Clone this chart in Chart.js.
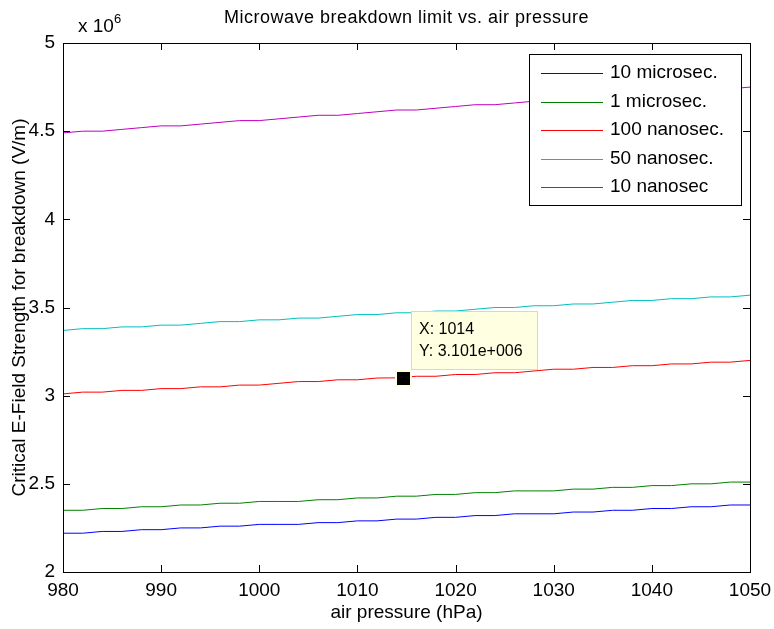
<!DOCTYPE html>
<html><head><meta charset="utf-8">
<script src="https://cdn.jsdelivr.net/npm/chart.js@4.4.0/dist/chart.umd.min.js"></script>
<style>html,body{margin:0;padding:0;background:#fff}#wrap{width:774px;height:629px}</style>
</head><body><div id="wrap"><canvas id="c" width="774" height="629"></canvas></div>
<script>
const pressure = [980,982,984,986,988,990,992,994,996,998,1000,1002,1004,1006,1008,1010,1012,1014,1016,1018,1020,1022,1024,1026,1028,1030,1032,1034,1036,1038,1040,1042,1044,1046,1048,1050];
// values in units of 10^6 V/m
const tenMicro = [2.22,2.22,2.23,2.23,2.24,2.24,2.25,2.25,2.26,2.26,2.27,2.27,2.27,2.28,2.28,2.29,2.29,2.30,2.30,2.31,2.31,2.32,2.32,2.33,2.33,2.33,2.34,2.34,2.35,2.35,2.36,2.36,2.37,2.37,2.38,2.38];
const oneMicro = [2.35,2.35,2.36,2.36,2.37,2.37,2.38,2.38,2.39,2.39,2.40,2.40,2.40,2.41,2.41,2.42,2.42,2.43,2.43,2.44,2.44,2.45,2.45,2.46,2.46,2.46,2.47,2.47,2.48,2.48,2.49,2.49,2.50,2.50,2.51,2.51];
const hundredNano = [3.01,3.02,3.02,3.03,3.03,3.04,3.04,3.05,3.05,3.06,3.06,3.07,3.08,3.08,3.09,3.09,3.10,3.101,3.11,3.11,3.12,3.12,3.13,3.13,3.14,3.15,3.15,3.16,3.16,3.17,3.17,3.18,3.18,3.19,3.19,3.20];
const fiftyNano = [3.37,3.38,3.38,3.39,3.39,3.40,3.40,3.41,3.42,3.42,3.43,3.43,3.44,3.44,3.45,3.46,3.46,3.47,3.47,3.48,3.48,3.49,3.50,3.50,3.51,3.51,3.52,3.52,3.53,3.54,3.54,3.55,3.55,3.56,3.56,3.57];
const tenNano = [4.49,4.50,4.50,4.51,4.52,4.53,4.53,4.54,4.55,4.56,4.56,4.57,4.58,4.59,4.59,4.60,4.61,4.62,4.62,4.63,4.64,4.65,4.65,4.66,4.67,4.68,4.68,4.69,4.70,4.71,4.71,4.72,4.73,4.74,4.74,4.75];
const seriesNames = ['10 microsec.','1 microsec.','100 nanosec.','50 nanosec.','10 nanosec'];
const seriesColors = ['#0000ff','#008000','#ff0000','#00bfbf','#bf00bf'];
const xTicks = [980,990,1000,1010,1020,1030,1040,1050];
const yTicks = [2,2.5,3,3.5,4,4.5,5];
const yTickLabels = ['2','2.5','3','3.5','4','4.5','5'];
const tipX = 1014, tipY = 3.101;
const tipLines = ['X: 1014','Y: 3.101e+006'];

const allSeries = [tenMicro, oneMicro, hundredNano, fiftyNano, tenNano];
const FONT = '"Liberation Sans", Arial, sans-serif';

const datasets = allSeries.map((s,i)=>({
  label: seriesNames[i],
  data: pressure.map((p,j)=>({x:p,y:s[j]})),
  borderColor: seriesColors[i],
  borderWidth: 1,
  pointRadius: 0,
  tension: 0,
  fill: false
}));

const deco = {
  id:'deco',
  afterDraw(chart){
    const ctx = chart.ctx, a = chart.chartArea;
    const xs = chart.scales.x, ys = chart.scales.y;
    ctx.save();
    ctx.strokeStyle = '#000'; ctx.lineWidth = 1;
    ctx.strokeRect(Math.round(a.left)+0.5, Math.round(a.top)+0.5, Math.round(a.right-a.left), Math.round(a.bottom-a.top));
    ctx.beginPath();
    xTicks.forEach(v=>{
      const px = Math.round(xs.getPixelForValue(v))+0.5;
      ctx.moveTo(px, a.bottom); ctx.lineTo(px, a.bottom-7);
      ctx.moveTo(px, a.top); ctx.lineTo(px, a.top+7);
    });
    yTicks.forEach(v=>{
      const py = Math.round(ys.getPixelForValue(v))+0.5;
      ctx.moveTo(a.left, py); ctx.lineTo(a.left+7, py);
      ctx.moveTo(a.right, py); ctx.lineTo(a.right-7, py);
    });
    ctx.stroke();
    // tick labels
    ctx.fillStyle = '#000';
    ctx.font = '19px '+FONT;
    ctx.textAlign = 'center'; ctx.textBaseline = 'top';
    xTicks.forEach(v=>{ ctx.fillText(String(v), xs.getPixelForValue(v), a.bottom+9); });
    ctx.textAlign = 'right'; ctx.textBaseline = 'middle';
    yTicks.forEach((v,i)=>{ ctx.fillText(yTickLabels[i], a.left-8, ys.getPixelForValue(v)); });
    // exponent
    ctx.textAlign = 'left'; ctx.textBaseline = 'alphabetic';
    ctx.font = '19px '+FONT;
    ctx.fillText('x 10', 78, 32);
    ctx.font = '13px '+FONT;
    ctx.fillText('6', 114, 23);
    // title
    ctx.font = '18px '+FONT;
    ctx.letterSpacing = '0.5px';
    ctx.textAlign = 'center'; ctx.textBaseline = 'middle';
    ctx.fillText('Microwave breakdown limit vs. air pressure', (a.left+a.right)/2, 18);
    ctx.letterSpacing = '0px';
    // axis titles
    ctx.font = '19px '+FONT;
    ctx.fillText('air pressure (hPa)', (a.left+a.right)/2, 613);
    ctx.save();
    ctx.translate(20, (a.top+a.bottom)/2);
    ctx.rotate(-Math.PI/2);
    ctx.fillText('Critical E-Field Strength for breakdown (V/m)', 0, 0);
    ctx.restore();
    // legend
    const lx=529.5, ly=54.5, lw=212, lh=151;
    ctx.fillStyle='#fff'; ctx.fillRect(lx,ly,lw,lh);
    ctx.strokeStyle='#000'; ctx.strokeRect(lx,ly,lw,lh);
    ctx.font = '19px '+FONT; ctx.textAlign='left'; ctx.textBaseline='middle';
    seriesNames.forEach((n,i)=>{
      const y = 73 + i*28.5;
      ctx.strokeStyle = seriesColors[i]; ctx.lineWidth=1;
      ctx.beginPath(); ctx.moveTo(541,Math.round(y)+0.5); ctx.lineTo(603,Math.round(y)+0.5); ctx.stroke();
      ctx.fillStyle='#000'; ctx.fillText(n, 610, y);
    });
    // datatip marker
    const mx = Math.round(xs.getPixelForValue(tipX)) + 6, my = Math.round(ys.getPixelForValue(tipY));
    ctx.fillStyle = '#ffffe1';
    ctx.fillRect(mx-8, my-8, 17, 17);
    ctx.fillStyle = '#000';
    ctx.fillRect(mx-6, my-6, 13, 13);
    const bx = 411.5, by = 311.5, bw = 126, bh = 58;
    ctx.fillStyle = '#ffffe1'; ctx.fillRect(bx,by,bw,bh);
    ctx.strokeStyle = '#d8d8c8'; ctx.strokeRect(bx,by,bw,bh);
    ctx.fillStyle = '#000'; ctx.font = '16px '+FONT; ctx.textAlign='left'; ctx.textBaseline='middle';
    ctx.fillText(tipLines[0], 419, 330);
    ctx.fillText(tipLines[1], 419, 352);
    ctx.restore();
  }
};

new Chart(document.getElementById('c'), {
  type:'line',
  data:{datasets},
  options:{
    responsive:false, animation:false,
    layout:{padding:{left:0,right:24,top:43,bottom:0}},
    plugins:{legend:{display:false},tooltip:{enabled:false},title:{display:false}},
    scales:{
      x:{type:'linear',min:980,max:1050,
        grid:{display:false},border:{display:false},
        ticks:{display:false},
        afterFit(s){s.height=57;}},
      y:{type:'linear',min:2,max:5,
        grid:{display:false},border:{display:false},
        ticks:{display:false},
        afterFit(s){s.width=63;}}
    }
  },
  plugins:[deco]
});
</script></body></html>
